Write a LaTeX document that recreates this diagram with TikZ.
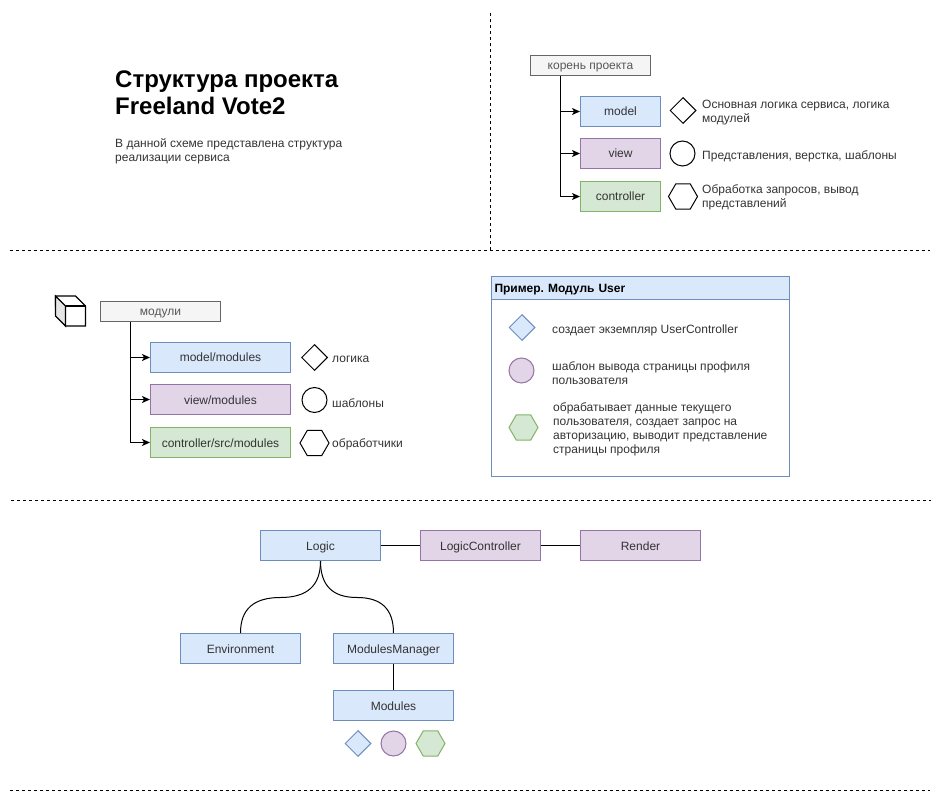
\documentclass[tikz,border=0pt]{standalone}
\usepackage{fontspec}
\setmainfont{Liberation Sans}
\usetikzlibrary{shapes.geometric,arrows.meta}
\definecolor{bluefill}{HTML}{DAE8FC}
\definecolor{blueline}{HTML}{6C8EBF}
\definecolor{purplefill}{HTML}{E1D5E7}
\definecolor{purpleline}{HTML}{9673A6}
\definecolor{greenfill}{HTML}{D5E8D4}
\definecolor{greenline}{HTML}{82B366}
\definecolor{greyfill}{HTML}{F5F5F5}
\definecolor{greyline}{HTML}{666666}
\definecolor{inktext}{HTML}{333333}
\tikzstyle{base} = [rectangle, line width=1pt, inner sep=0pt, text centered, text=inktext, text height=10pt, text depth=1pt, font=\frenchspacing\fontsize{12}{14}\selectfont]
\tikzstyle{bluebox} = [base, minimum width=120pt, minimum height=30pt, draw=blueline, fill=bluefill]
\tikzstyle{purplebox} = [base, minimum width=120pt, minimum height=30pt, draw=purpleline, fill=purplefill]
\tikzstyle{greenbox} = [base, minimum width=120pt, minimum height=30pt, draw=greenline, fill=greenfill]
\tikzstyle{greybox} = [base, minimum width=120pt, minimum height=20pt, draw=greyline, fill=greyfill, text=greyline!70!inktext]
\tikzstyle{caption} = [anchor=west, align=left, inner sep=0pt, text=inktext, font=\fontsize{12}{14}\selectfont]
\tikzstyle{rhomb} = [diamond, line width=1pt, aspect=1, inner sep=0pt, minimum width=26pt, minimum height=26pt, draw=black]
\tikzstyle{round} = [circle, line width=1pt, inner sep=0pt, minimum size=25pt, draw=black]
\tikzstyle{hexa} = [regular polygon, regular polygon sides=6, line width=1pt, inner sep=0pt, minimum size=29pt, draw=black]
\tikzstyle{arrow} = [line width=1pt,->,>={Stealth[length=8pt,width=7pt,inset=2pt]}]
\tikzstyle{link} = [line width=1pt]
\tikzstyle{divider} = [line width=1pt, dash pattern=on 3pt off 3pt]
\begin{document}
\begin{tikzpicture}[x=1pt, y=-1pt, node distance=42pt]
\useasboundingbox (0,0) rectangle (943,802);
% dividers
\coordinate (vtop) at (490.5,13);
\coordinate (vend) at (490.5,250);
\coordinate (line1a) at (10,250.5);
\coordinate (line1b) at (930,250.5);
\coordinate (line2a) at (11,500.5);
\coordinate (line2b) at (931,500.5);
\coordinate (line3a) at (10,790.5);
\coordinate (line3b) at (930,790.5);
\draw [divider] (vtop) -- (vend);
\draw [divider] (line1a) -- (line1b);
\draw [divider] (line2a) -- (line2b);
\draw [divider] (line3a) -- (line3b);

% title
\node (title) [anchor=west, align=left, inner sep=0pt, font=\fontsize{24}{27}\selectfont\bfseries] at (115,92.5) {Структура проекта\\Freeland Vote2};
\node (subtitle) [caption] at (115,151.5) {В данной схеме представлена структура\\реализации сервиса};

% project root
\node (root) [greybox] at (590.5,65.5) {корень проекта};
\node (model) [bluebox, minimum width=80pt] at (620.5,111.5) {model};
\node (view) [purplebox, minimum width=80pt, below of=model] {view};
\node (controller) [greenbox, minimum width=80pt, below of=view, yshift=-1pt] {controller};
\node (modelmark) [rhomb] at (683,110.5) {};
\node (viewmark) [round] at (682.5,153.5) {};
\node (ctrlmark) [hexa] at (683,196.5) {};
\node (modeltext) [caption] at (702,112.5) {Основная логика сервиса, логика\\модулей};
\node (viewtext) [caption] at (702,156.5) {Представления, верстка, шаблоны};
\node (ctrltext) [caption] at (702,197.5) {Обработка запросов, вывод\\представлений};

\draw [arrow] ([xshift=-30pt]root.south) |- (model);
\draw [arrow] ([xshift=-30pt]root.south) |- (view);
\draw [arrow] ([xshift=-30pt]root.south) |- (controller);

% modules
\draw [line width=1.3pt, fill=white] (55.5,306) -- (65.5,326) -- (85.5,326) -- (85.5,306) -- (75.5,296) -- (55.5,296) -- cycle;
\draw [line width=1.3pt, fill=black!10] (55.5,296) -- (65.5,306) -- (65.5,326) -- (55.5,316) -- cycle;
\draw [line width=1.3pt] (65.5,306) -- (85.5,306);

\node (mods) [greybox] at (160.5,311.5) {модули};
\node (modmodel) [bluebox, minimum width=140pt] at (220.5,357.5) {model/modules};
\node (modview) [purplebox, minimum width=140pt, below of=modmodel] {view/modules};
\node (modctrl) [greenbox, minimum width=140pt, below of=modview, yshift=-1pt] {controller/src/modules};
\node (modmodelmark) [rhomb] at (314.5,357.5) {};
\node (modviewmark) [round] at (314.5,400) {};
\node (modctrlmark) [hexa] at (314.5,443) {};
\node (modmodeltext) [caption] at (332,359.5) {логика};
\node (modviewtext) [caption] at (332,403) {шаблоны};
\node (modctrltext) [caption] at (332,444.5) {обработчики};

\draw [arrow] ([xshift=-30pt]mods.south) |- (modmodel);
\draw [arrow] ([xshift=-30pt]mods.south) |- (modview);
\draw [arrow] ([xshift=-30pt]mods.south) |- (modctrl);

% example
\node (expanel) [base, minimum width=298pt, minimum height=200pt, draw=blueline] at (640.5,376.5) {};
\node (exhead) [base, text width=292pt, align=left, minimum width=298pt, minimum height=23pt, draw=blueline, fill=bluefill, text=black, font=\frenchspacing\fontsize{12}{14}\selectfont\bfseries] at (640.5,288) {Пример. Модуль User};
\node (exmodel) [rhomb, draw=blueline, fill=bluefill] at (522,327.5) {};
\node (exview) [round, draw=purpleline, fill=purplefill] at (521.5,370.5) {};
\node (exctrl) [hexa, draw=greenline, fill=greenfill] at (523.5,427.5) {};
\node (exmodeltext) [caption] at (552,330.5) {создает экземпляр UserController};
\node (exviewtext) [caption] at (552,373.5) {шаблон вывода страницы профиля\\пользователя};
\node (exctrltext) [caption] at (553,429.5) {обрабатывает данные текущего\\пользователя, создает запрос на\\авторизацию, выводит представление\\страницы профиля};

% structure
\node (logic) [bluebox] at (320.5,545.5) {Logic};
\node (logicctrl) [purplebox, right of=logic, xshift=118pt] {LogicController};
\node (render) [purplebox, right of=logicctrl, xshift=118pt] {Render};
\node (env) [bluebox] at (240.5,648.5) {Environment};
\node (manager) [bluebox] at (393.5,648.5) {ModulesManager};
\node (modules) [bluebox, below of=manager, yshift=-15pt] {Modules};
\node (smallmodel) [rhomb, draw=blueline, fill=bluefill] at (358,743.5) {};
\node (smallview) [round, draw=purpleline, fill=purplefill] at (393.5,743.5) {};
\node (smallctrl) [hexa, draw=greenline, fill=greenfill] at (430.5,743.5) {};

\coordinate (envmid) at (280.5,597.5);
\coordinate (mgrmid) at (357,597.5);
\draw [link] (logic) -- (logicctrl);
\draw [link] (logicctrl) -- (render);
\draw [link] (manager) -- (modules);
\draw [link] (logic.south) .. controls +(0,24.7) and +(26.7,0) .. (envmid) .. controls +(-26.7,0) and +(0,-24) .. (env.north);
\draw [link] (logic.south) .. controls +(0,24.7) and +(-24.3,0) .. (mgrmid) .. controls +(24.3,0) and +(0,-24) .. (manager.north);

\end{tikzpicture}
\end{document}
